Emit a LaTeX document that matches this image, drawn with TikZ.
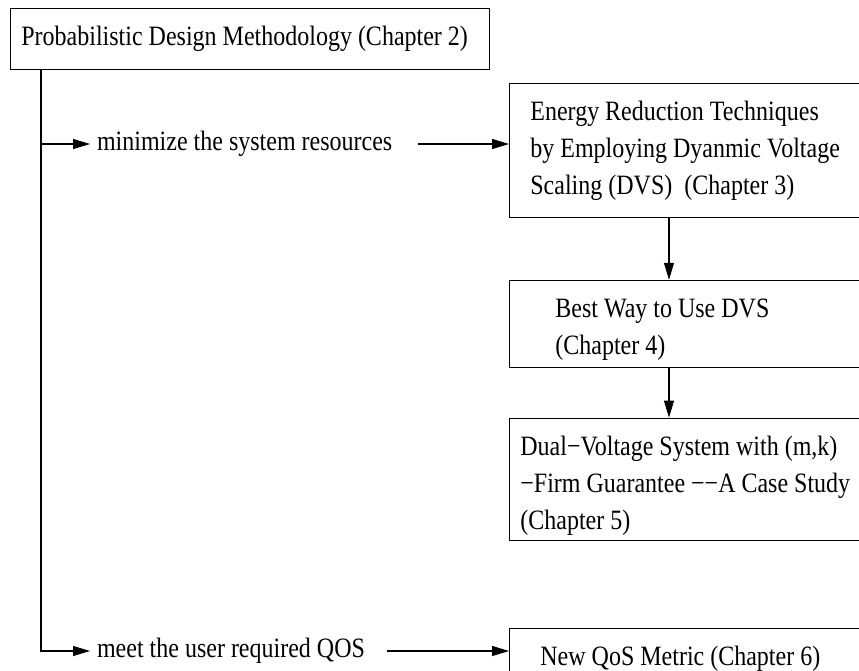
\documentclass[tikz,border=0pt]{standalone}
\usepackage{fontspec}
\setmainfont{Liberation Serif}[FakeStretch=0.857]
\usepackage{tikz}
\usetikzlibrary{arrows.meta,positioning}

\begin{document}
\begin{tikzpicture}[x=0.5pt, y=-0.5pt, >={Triangle[length=8.5pt,width=5pt]},
    every node/.style={font=\fontsize{14pt}{18.5pt}\selectfont},
    chapbox/.style={draw, rectangle, anchor=north west, align=flush left, inner ysep=0pt},
    link/.style={->, line width=0.55pt}]
    \useasboundingbox (0,0) rectangle (859,671);
    \clip (0,0) rectangle (859,671);

    \node [chapbox, text width=228.5pt, inner xsep=5.5pt, minimum height=30.5pt] (pdm) at (10,8) {Probabilistic Design Methodology (Chapter 2)};

    \node [chapbox, text width=164.5pt, inner xsep=10.5pt, minimum height=67pt] (energy) at (509,83) {Energy Reduction Techniques\\ by Employing Dyanmic Voltage\\ Scaling (DVS)\ \ (Chapter 3)};
    \node [chapbox, below=31pt of energy.south west, anchor=north west, text width=139.5pt, inner xsep=23pt, minimum height=43.5pt] (bestway) {\rule{0pt}{15.5pt}Best Way to Use DVS\\ (Chapter 4)};
    \node [chapbox, below=25pt of bestway.south west, anchor=north west, text width=174.5pt, inner xsep=5.5pt, minimum height=61pt] (dualv) {\rule{0pt}{16.2pt}Dual−Voltage System with (m,k)\\ −Firm Guarantee −−A Case Study\\ (Chapter 5)};
    \node [chapbox, below=44pt of dualv.south west, anchor=north west, text width=154.5pt, inner xsep=15.5pt, minimum height=29.5pt] (qosmetric) {New QoS Metric (Chapter 6)};

    \node [anchor=west] (minimize) at (90,144) {minimize the system resources};
    \node [anchor=west] (meetqos) at (90,651) {meet the user required QOS};

    \draw [link] ([xshift=15.5pt]pdm.south west) |- (minimize.west);
    \draw [link] ([xshift=15.5pt]pdm.south west) |- (meetqos.west);
    \draw [link, shorten <=9.5pt] (minimize.east) -- (minimize.east -| energy.west);
    \draw [link, shorten <=7.5pt] (meetqos.east) -- (meetqos.east -| qosmetric.west);
    \draw [link] ([xshift=80pt]energy.south west) -- ([xshift=80pt]bestway.north west);
    \draw [link] ([xshift=80pt]bestway.south west) -- ([xshift=80pt]dualv.north west);
\end{tikzpicture}
\end{document}
